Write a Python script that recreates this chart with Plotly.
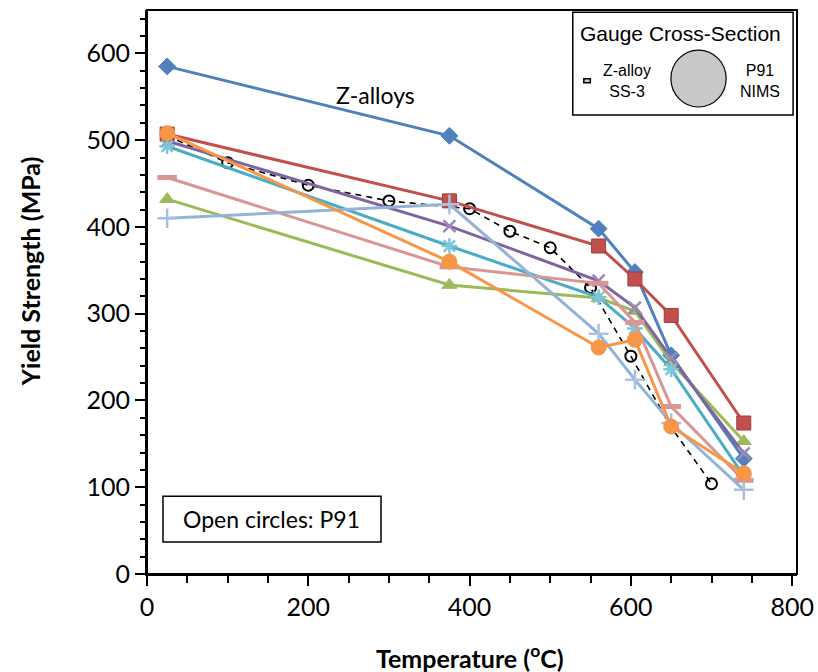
import plotly.graph_objects as go

# Z-alloy temperatures (degC)
temps = [25, 375, 560, 605, 650, 740]

# Yield strength series (MPa)
blue_diamond = [585, 505, 398, 348, 252, 133]
red_square = [507, 430, 378, 340, 298, 174]
green_triangle = [432, 333, 318, 303, 244, 153]
purple_x = [499, 401, 338, 307, 249, 139]
teal_star = [493, 378, 319, 283, 236, 113]
pink_dash = [457, 354, 335, 290, 193, 108]
lightblue_plus = [410, 426, 277, 224, 174, 97]
orange_circle = [508, 360, 261, 270, 170, 116]

# P91 (NIMS) data
p91_temps = [25, 100, 200, 300, 400, 450, 500, 550, 600, 650, 700]
p91_ys = [505, 474, 448, 430, 421, 395, 376, 330, 251, 169, 104]

fig = go.Figure()

fig.add_trace(go.Scatter(
    x=p91_temps, y=p91_ys, mode="lines+markers",
    line=dict(color="black", width=1.6, dash="6px,5px"),
    marker=dict(symbol="circle-open", size=11, color="black", line=dict(width=2, color="black")),
    showlegend=False))

series = [
    (blue_diamond, "#4F81BD", "diamond", 13, "#4F81BD", 1),
    (red_square, "#C0504D", "square", 14, "#A03C3A", 1),
    (green_triangle, "#9BBB59", "triangle-up", 13, "#9BBB59", 1),
    (purple_x, "#8064A2", "x-thin", 12, "#9C88B8", 2.5),
    (teal_star, "#4BACC6", "asterisk", 13, "#7FC4D8", 2.5),
    (pink_dash, "#D99694", "line-ew", 14, "#D99694", 5),
    (lightblue_plus, "#95B3D7", "cross-thin", 14, "#A9C1DF", 2.5),
    (orange_circle, "#F79646", "circle", 15, "#F79646", 1),
]

for ys, col, sym, size, mline, mw in series:
    fig.add_trace(go.Scatter(
        x=temps, y=ys, mode="lines+markers",
        line=dict(color=col, width=3),
        marker=dict(symbol=sym, size=size, color=col, line=dict(color=mline, width=mw)),
        showlegend=False))

tickfont = dict(family="Lato, Open Sans, sans-serif", size=25, color="black")

fig.update_layout(
    width=818, height=672,
    margin=dict(l=147, r=21, t=10, b=98),
    paper_bgcolor="white", plot_bgcolor="white",
    xaxis=dict(
        range=[0, 806], tickvals=[0, 200, 400, 600, 800], ticks="outside", ticklen=10,
        tickwidth=2, tickcolor="black", showline=True, linecolor="black", linewidth=2,
        showgrid=False, zeroline=False, tickfont=tickfont, automargin=False,
        minor=dict(tickvals=[50, 100, 150, 250, 300, 350, 450, 500, 550, 650, 700, 750],
                   ticks="outside", ticklen=7, tickwidth=1.5, tickcolor="black", showgrid=False),
    ),
    yaxis=dict(
        range=[0, 650], tickvals=[0, 100, 200, 300, 400, 500, 600], ticks="outside", ticklen=10,
        tickwidth=2, tickcolor="black", showline=True, linecolor="black", linewidth=2,
        showgrid=False, zeroline=False, tickfont=tickfont, automargin=False,
        minor=dict(tickvals=[v for v in range(20, 650, 20) if v % 100 != 0],
                   ticks="outside", ticklen=5, tickwidth=1.5, tickcolor="black", showgrid=False),
    ),
)

shapes = [
    dict(type="rect", xref="paper", yref="paper", x0=0, x1=1, y0=0, y1=1,
         line=dict(color="black", width=2), fillcolor="rgba(0,0,0,0)", layer="above"),
    dict(type="rect", xref="paper", yref="paper", x0=0.655, x1=0.994, y0=0.814, y1=0.996,
         line=dict(color="black", width=1.5), fillcolor="white", layer="above"),
    dict(type="rect", xref="paper", yref="paper", x0=0.672, x1=0.682, y0=0.871, y1=0.878,
         line=dict(color="black", width=1.5), fillcolor="#C8C8C8", layer="above"),
    dict(type="circle", xref="paper", yref="paper", x0=0.806, x1=0.891, y0=0.828, y1=0.929,
         line=dict(color="black", width=1.2), fillcolor="#C8C8C8", layer="above"),
    dict(type="rect", xref="paper", yref="paper", x0=0.0246, x1=0.36, y0=0.0567, y1=0.138,
         line=dict(color="black", width=1.5), fillcolor="white", layer="above"),
]
fig.update_layout(shapes=shapes)

arial = "Liberation Sans, Arial, sans-serif"
calib = "Lato, Open Sans, sans-serif"
titlefont = dict(family="Lato, Open Sans, sans-serif", size=25, color="black", weight="bold")
annotations = [
    dict(text="Gauge Cross-Section", x=0.82, y=0.959, font=dict(family=arial, size=21, color="black")),
    dict(text="Z-alloy<br>SS-3", x=0.738, y=0.874, font=dict(family=arial, size=16, color="black")),
    dict(text="P91<br>NIMS", x=0.943, y=0.874, font=dict(family=arial, size=16, color="black")),
    dict(text="Open circles: P91", x=0.192, y=0.0975, font=dict(family=calib, size=23, color="black")),
    dict(text="Z-alloys", x=0.351, y=0.85, font=dict(family=calib, size=23, color="black")),
    dict(text="Temperature (<sup>o</sup>C)", x=0.497, y=-0.147, font=titlefont),
    dict(text="Yield Strength (MPa)", x=-0.18, y=0.537, textangle=-90, font=titlefont),
]
for a in annotations:
    a.update(xref="paper", yref="paper", showarrow=False, xanchor="center", yanchor="middle")
fig.update_layout(annotations=annotations)

fig.write_html("out.html")
